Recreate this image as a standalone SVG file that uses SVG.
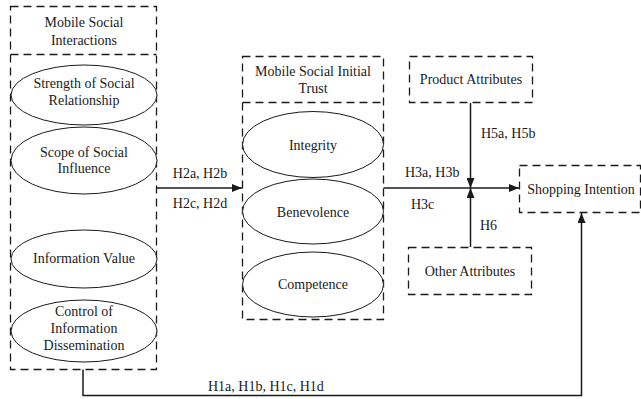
<svg xmlns="http://www.w3.org/2000/svg" width="641" height="399" viewBox="0 0 641 399" font-family="'Liberation Serif', 'DejaVu Serif', 'Times New Roman', serif" font-size="14">
  <style>
    .box { fill: none; stroke: #1a1a1a; stroke-width: 1.3; stroke-dasharray: 8 5; }
    .ell { fill: #fff; stroke: #1a1a1a; stroke-width: 1; }
    .conn { fill: none; stroke: #1a1a1a; stroke-width: 1.5; }
    text { font-family: 'Liberation Serif', 'DejaVu Serif', 'Times New Roman', serif; font-size: 14px; fill: #1a1a1a; }
    .c { text-anchor: middle; }
  </style>
  <defs>
    <marker id="arrow" viewBox="0 0 10 8" refX="10" refY="4" markerWidth="10" markerHeight="8" markerUnits="userSpaceOnUse" orient="auto">
      <path d="M0,0 L10,4 L0,8 Z" fill="#1a1a1a"/>
    </marker>
  </defs>
  <rect width="641" height="399" fill="#fff"/>

  <!-- Mobile Social Interactions group -->
  <g id="mobile-social-interactions">
    <rect class="box" x="10.5" y="6.5" width="146" height="363"/>
    <line class="box" x1="10.5" y1="54.5" x2="156.5" y2="54.5"/>
    <text class="c" x="84" y="27">Mobile Social</text>
    <text class="c" x="84" y="45">Interactions</text>
  </g>
  <g id="strength-of-social-relationship">
    <ellipse class="ell" cx="84" cy="95" rx="73" ry="30"/>
    <text class="c" x="84" y="88">Strength of Social</text>
    <text class="c" x="84" y="105">Relationship</text>
  </g>
  <g id="scope-of-social-influence">
    <ellipse class="ell" cx="84" cy="160.5" rx="73" ry="33.5"/>
    <text class="c" x="84" y="157">Scope of Social</text>
    <text class="c" x="84" y="173">Influence</text>
  </g>
  <g id="information-value">
    <ellipse class="ell" cx="84" cy="259" rx="73" ry="29"/>
    <text class="c" x="84" y="263">Information Value</text>
  </g>
  <g id="control-of-information-dissemination">
    <ellipse class="ell" cx="84" cy="331" rx="73" ry="31"/>
    <text class="c" x="84" y="316">Control of</text>
    <text class="c" x="84" y="333">Information</text>
    <text class="c" x="84" y="350">Dissemination</text>
  </g>

  <!-- Mobile Social Initial Trust group -->
  <g id="mobile-social-initial-trust">
    <rect class="box" x="242.5" y="56.5" width="141" height="263"/>
    <line class="box" x1="242.5" y1="102.5" x2="383.5" y2="102.5"/>
    <text class="c" x="313" y="76">Mobile Social Initial</text>
    <text class="c" x="313" y="93">Trust</text>
  </g>
  <g id="integrity">
    <ellipse class="ell" cx="313" cy="144.5" rx="70.5" ry="33"/>
    <text class="c" x="313" y="150">Integrity</text>
  </g>
  <g id="benevolence">
    <ellipse class="ell" cx="313" cy="211.5" rx="70.5" ry="32.5"/>
    <text class="c" x="313" y="217">Benevolence</text>
  </g>
  <g id="competence">
    <ellipse class="ell" cx="313" cy="284.5" rx="70.5" ry="32.5"/>
    <text class="c" x="313" y="289">Competence</text>
  </g>

  <!-- Other constructs -->
  <g id="product-attributes">
    <rect class="box" x="409.5" y="56.5" width="123" height="46"/>
    <text class="c" x="471" y="84">Product Attributes</text>
  </g>
  <g id="other-attributes">
    <rect class="box" x="408.5" y="247.5" width="123" height="47"/>
    <text class="c" x="470" y="276">Other Attributes</text>
  </g>
  <g id="shopping-intention">
    <rect class="box" x="519.5" y="165.5" width="121" height="47"/>
    <text class="c" x="581" y="194">Shopping Intention</text>
  </g>

  <!-- Connectors -->
  <g id="connectors">
    <line class="conn" x1="156.5" y1="188" x2="242" y2="188" marker-end="url(#arrow)"/>
    <line class="conn" x1="383.5" y1="188" x2="519" y2="188" marker-end="url(#arrow)"/>
    <line class="conn" x1="470.5" y1="103" x2="470.5" y2="188" marker-end="url(#arrow)"/>
    <line class="conn" x1="470.5" y1="247" x2="470.5" y2="188" marker-end="url(#arrow)"/>
    <polyline class="conn" points="83,369.5 83,395.5 581.5,395.5 581.5,213" marker-end="url(#arrow)"/>
    <text class="c" x="200" y="178">H2a, H2b</text>
    <text class="c" x="200" y="208">H2c, H2d</text>
    <text x="405" y="177">H3a, H3b</text>
    <text x="411" y="209">H3c</text>
    <text x="481" y="138">H5a, H5b</text>
    <text x="480" y="230">H6</text>
    <text x="208" y="391">H1a, H1b, H1c, H1d</text>
  </g>
</svg>
